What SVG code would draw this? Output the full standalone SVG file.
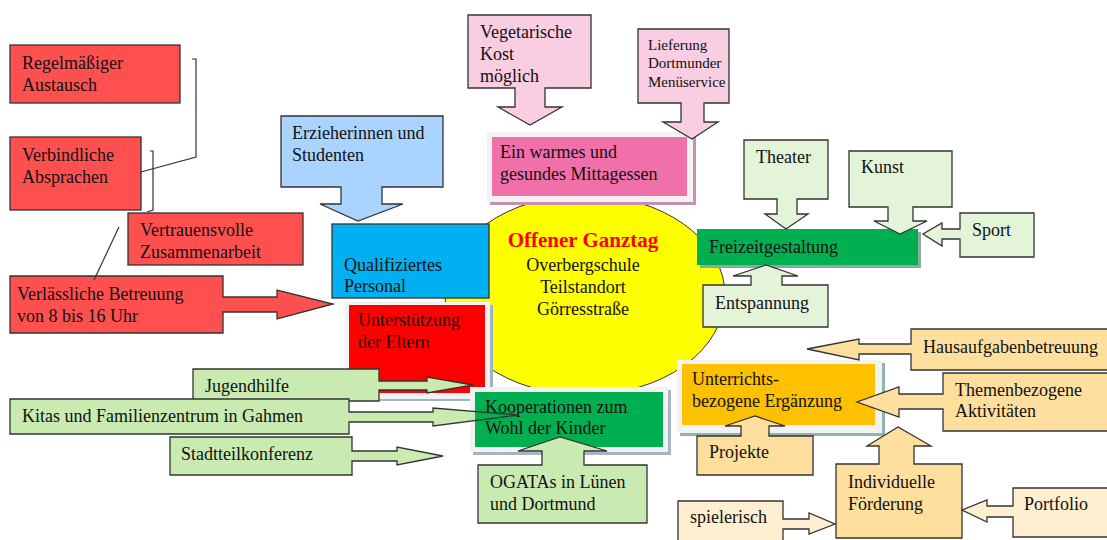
<svg xmlns="http://www.w3.org/2000/svg" width="1107" height="540" viewBox="0 0 1107 540">
<style>
text{font-family:"Liberation Serif","Times New Roman",serif;font-size:18px;fill:#111}
.s{stroke:#333;stroke-width:1.3;stroke-linejoin:miter}
.ln{fill:none;stroke:#333;stroke-width:1.2}
.red{fill:#FF5050}
.lb{fill:#A9D4FF}
.lg{fill:#C9EAB1}
.vg{fill:#E4F4D9}
.lp{fill:#F9CDE2}
.lo{fill:#FFDF9E}
.vo{fill:#FFEFD0}
.frame{fill:#F2F2F2}
.sm{font-size:15px}
</style>
<defs>
<clipPath id="leftOfKoop"><rect x="0" y="0" width="475" height="540"/></clipPath>
</defs>
<rect width="1107" height="540" fill="#FFFFFF"/>

<g id="center">
<ellipse cx="585" cy="295" rx="140" ry="100" fill="#FFFF00" stroke="#333" stroke-width="1"/>
<text x="583" y="247" text-anchor="middle" style="font-size:21px;font-weight:bold;fill:#FF0000">Offener Ganztag</text>
<text x="583" y="271" text-anchor="middle">Overbergschule</text>
<text x="583" y="293" text-anchor="middle">Teilstandort</text>
<text x="583" y="315" text-anchor="middle">Görresstraße</text>
</g>

<g id="regelmaessig">
<rect class="s red" x="10" y="45" width="170" height="58"/>
<text x="22" y="69">Regelmäßiger</text>
<text x="22" y="91">Austausch</text>
</g>
<g id="verbindlich">
<rect class="s red" x="10" y="137" width="131" height="73"/>
<text x="22" y="161">Verbindliche</text>
<text x="22" y="183">Absprachen</text>
</g>
<g id="vertrauen">
<rect class="s red" x="128" y="213" width="175" height="52"/>
<text x="140" y="236">Vertrauensvolle</text>
<text x="140" y="258">Zusammenarbeit</text>
</g>
<g id="verlaesslich">
<path class="s red" d="M10,276 H223 V297 H277 V290 L333,304 L277,319 V312 H223 V333 H10 Z"/>
<text x="17" y="300">Verlässliche Betreuung</text>
<text x="17" y="322">von 8 bis 16 Uhr</text>
</g>

<g id="connectors">
<polyline class="ln" points="192,59 196,59 196,157 141,172"/>
<polyline class="ln" points="150,151 153,151 153,210 147,212"/>
<line class="ln" x1="119" y1="227" x2="94" y2="280"/>
</g>

<g id="erzieher">
<path class="s lb" d="M281,116 H443 V187 H382 V204 H403 L358,221 L320,204 H341 V187 H281 Z"/>
<text x="292" y="139">Erzieherinnen und</text>
<text x="292" y="161">Studenten</text>
</g>
<g id="qualifiziert">
<rect class="s" x="332" y="224" width="157" height="74" fill="#00B0F0"/>
<text x="344" y="271">Qualifiziertes</text>
<text x="344" y="292">Personal</text>
</g>
<g id="eltern">
<rect x="348" y="305" width="145" height="96" fill="#9FB3C3"/>
<rect class="frame" x="345" y="302" width="145" height="97"/>
<rect x="349" y="305" width="136" height="88" fill="#FF0000"/>
<text x="358" y="326">Unterstützung</text>
<text x="358" y="348">der Eltern</text>
</g>
<g id="jugendhilfe">
<path class="s lg" d="M193,369 H379 V381 H427 V377 L473,385 L427,393 V390 H379 V401 H193 Z"/>
<text x="205" y="392">Jugendhilfe</text>
</g>
<g id="kooperation">
<rect x="473" y="390" width="198" height="65" fill="#A8B2C8"/>
<rect class="frame" x="470" y="387" width="198" height="65"/>
<rect x="475" y="392" width="188" height="55" fill="#00B050"/>
<text x="485" y="413">Kooperationen zum</text>
<text x="485" y="434">Wohl der Kinder</text>
</g>
<g id="kitas">
<path class="lg" clip-path="url(#leftOfKoop)" d="M10,399 H349 V412 H433 V408 L518,415 L433,426 V422 H349 V434 H10 Z"/>
<path class="s" fill="none" d="M10,399 H349 V412 H433 V408 L518,415 L433,426 V422 H349 V434 H10 Z"/>
<text x="22" y="422">Kitas und Familienzentrum in Gahmen</text>
</g>
<g id="stadtteil">
<path class="s lg" d="M170,437 H352 V451 H397 V447 L443,456 L397,465 V461 H352 V475 H170 Z"/>
<text x="181" y="460">Stadtteilkonferenz</text>
</g>
<g id="ogatas">
<path class="s lg" d="M478,465 H542 V451 H518 L560,437 L607,451 H584 V465 H647 V523 H478 Z"/>
<text x="490" y="488">OGATAs in Lünen</text>
<text x="490" y="510">und Dortmund</text>
</g>

<g id="vegetarisch">
<path class="s lp" d="M468,15 H591 V88 H545 V107 H562 L530,125 L498,107 H515 V88 H468 Z"/>
<text x="480" y="38">Vegetarische</text>
<text x="480" y="60">Kost</text>
<text x="480" y="82">möglich</text>
</g>
<g id="mittagessen">
<rect x="490" y="135" width="206" height="70" fill="#C890AE"/>
<rect class="frame" x="487" y="132" width="206" height="70"/>
<rect x="492" y="137" width="195" height="59" fill="#F070AA"/>
<text x="500" y="158">Ein warmes und</text>
<text x="500" y="180">gesundes Mittagessen</text>
</g>
<g id="lieferung">
<path class="s lp" d="M638,29 H729 V103 H704 V122 H718 L692,139 L663,122 H681 V103 H638 Z"/>
<text class="sm" x="648" y="50">Lieferung</text>
<text class="sm" x="648" y="68">Dortmunder</text>
<text class="sm" x="648" y="87">Menüservice</text>
</g>

<g id="freizeit">
<rect x="700" y="232" width="221" height="36" fill="#8FA8A0"/>
<rect x="697" y="229" width="221" height="36" fill="#00B050"/>
<text x="709" y="253">Freizeitgestaltung</text>
</g>
<g id="theater">
<path class="s vg" d="M744,140 H828 V199 H797 V214 H808 L786,229 L765,214 H777 V199 H744 Z"/>
<text x="756" y="163">Theater</text>
</g>
<g id="kunst">
<path class="s vg" d="M849,151 H952 V207 H913 V221 H927 L900,234 L874,221 H888 V207 H849 Z"/>
<text x="861" y="173">Kunst</text>
</g>
<g id="sport">
<path class="s vg" d="M960,213 H1034 V257 H960 V239 H942 V246 L923,234 L942,223 V229 H960 Z"/>
<text x="972" y="236">Sport</text>
</g>
<g id="entspannung">
<path class="s vg" d="M703,285 H751 V276 H733 L766,265 L798,276 H782 V285 H828 V327 H703 Z"/>
<text x="715" y="309">Entspannung</text>
</g>

<g id="unterricht">
<rect x="680" y="363" width="205" height="73" fill="#8FB3AD"/>
<rect class="frame" x="677" y="360" width="205" height="73"/>
<rect x="682" y="364" width="193" height="61" fill="#FFC000"/>
<text x="692" y="385">Unterrichts-</text>
<text x="692" y="407">bezogene Ergänzung</text>
</g>
<g id="hausaufgaben">
<path class="s lo" d="M911,329 H1110 V370 H911 V354 H859 V360 L807,349 L859,339 V344 H911 Z"/>
<text x="923" y="353">Hausaufgabenbetreuung</text>
</g>
<g id="themen">
<path class="s lo" d="M943,373 H1110 V431 H943 V409 H899 V417 L857,402 L899,387 V394 H943 Z"/>
<text x="955" y="396">Themenbezogene</text>
<text x="955" y="417">Aktivitäten</text>
</g>
<g id="projekte">
<path class="s lo" d="M697,436 H741 V426 H725 L755,416 L785,426 H769 V436 H813 V475 H697 Z"/>
<text x="709" y="458">Projekte</text>
</g>
<g id="foerderung">
<path class="s lo" d="M836,464 H879 V446 H867 L898,427 L931,446 H914 V464 H962 V538 H836 Z"/>
<text x="848" y="488">Individuelle</text>
<text x="848" y="510">Förderung</text>
</g>
<g id="spielerisch">
<path class="s vo" d="M678,501 H783 V519 H809 V513 L835,524 L809,534 V529 H783 V545 H678 Z"/>
<text x="690" y="523">spielerisch</text>
</g>
<g id="portfolio">
<path class="s vo" d="M1013,488 H1110 V537 H1013 V517 H987 V522 L962,510 L987,500 V506 H1013 Z"/>
<text x="1024" y="510">Portfolio</text>
</g>
</svg>
